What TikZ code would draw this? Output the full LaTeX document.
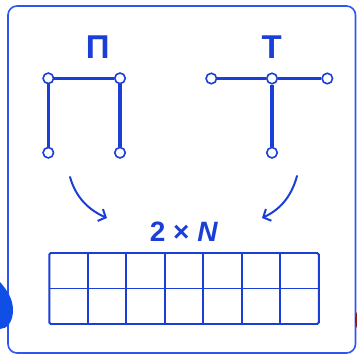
\documentclass[tikz,border=0pt]{standalone}
\usepackage{fontspec}
\setmainfont{Liberation Sans}
\usetikzlibrary{arrows.meta}
\definecolor{mainblue}{HTML}{1B3FD6}
\definecolor{frameblue}{HTML}{2F55EE}
\definecolor{blobblue}{HTML}{0F4FE6}
\definecolor{blobred}{HTML}{8A1E12}
\tikzset{
  vtx/.style={circle,draw=mainblue,fill=white,line width=1.6pt,minimum size=10.5pt,inner sep=0pt},
  edge/.style={draw=mainblue,line width=3.5pt},
  lbl/.style={text=mainblue,font=\fontsize{33}{36}\selectfont\bfseries,inner sep=0pt,anchor=base},
  curvearrow/.style={draw=mainblue,line width=2pt,line cap=round,-{Straight Barb[length=6pt,width=13pt,line width=2pt]}},
  gridline/.style={draw=mainblue,line width=1.9pt}
}
\begin{document}
\begin{tikzpicture}[x=1pt,y=-1pt]
\useasboundingbox (0,0) rectangle (357,356);
\clip (0,0) rectangle (357,356);
% frame
\draw[frameblue,line width=1.6pt,rounded corners=9pt] (8,6) rectangle (355.5,353);
% side blobs
\fill[blobblue] (0,282) .. controls (7,290) and (13,299) .. (13,310) .. controls (13,322) and (7,329) .. (0,329) -- cycle;
\fill[blobred] (363,320) ellipse [x radius=8, y radius=13];
% labels
\node[lbl] (pi) at (97.7,59) {П};
\node[lbl] (te) at (271.7,59) {Т};
% Pi shape
\node[vtx] (p1) at (48.3,78.3) {};
\node[vtx] (p2) at (120,78.3) {};
\node[vtx] (p3) at (48.3,152.7) {};
\node[vtx] (p4) at (120,152.7) {};
\draw[edge] (p1) -- (p2);
\draw[edge] (p1) -- (p3);
\draw[edge] (p2) -- (p4);
% T shape
\node[vtx] (t1) at (211.3,78.5) {};
\node[vtx] (t2) at (272,78.5) {};
\node[vtx] (t3) at (327.3,78.5) {};
\node[vtx] (t4) at (272,152.7) {};
\draw[edge] (t1) -- (t2);
\draw[edge] (t2) -- (t3);
\draw[edge] (t2) -- (t4);
% arrows
\coordinate (la) at (70,177);
\coordinate (lb) at (107,218);
\coordinate (ra) at (297,176);
\coordinate (rb) at (262,218);
\draw[curvearrow] (la) .. controls (76,198) and (89,210) .. (lb);
\draw[curvearrow] (ra) .. controls (291,198) and (279,210) .. (rb);
% 2 x N
\node[text=mainblue,font=\fontsize{28}{30}\selectfont\bfseries,inner sep=0pt,anchor=base] (dim) at (184,241.5) {2 × \textit{N}};
% grid
\draw[gridline,rounded corners=1.5pt] (49.3,253) rectangle (318.8,324);
\draw[gridline] (49.3,288.5) -- (318.8,288.5);
\foreach \x in {87.8,126.3,164.8,203.3,241.8,280.3}
  \draw[gridline] (\x,253) -- (\x,324);
\end{tikzpicture}
\end{document}
